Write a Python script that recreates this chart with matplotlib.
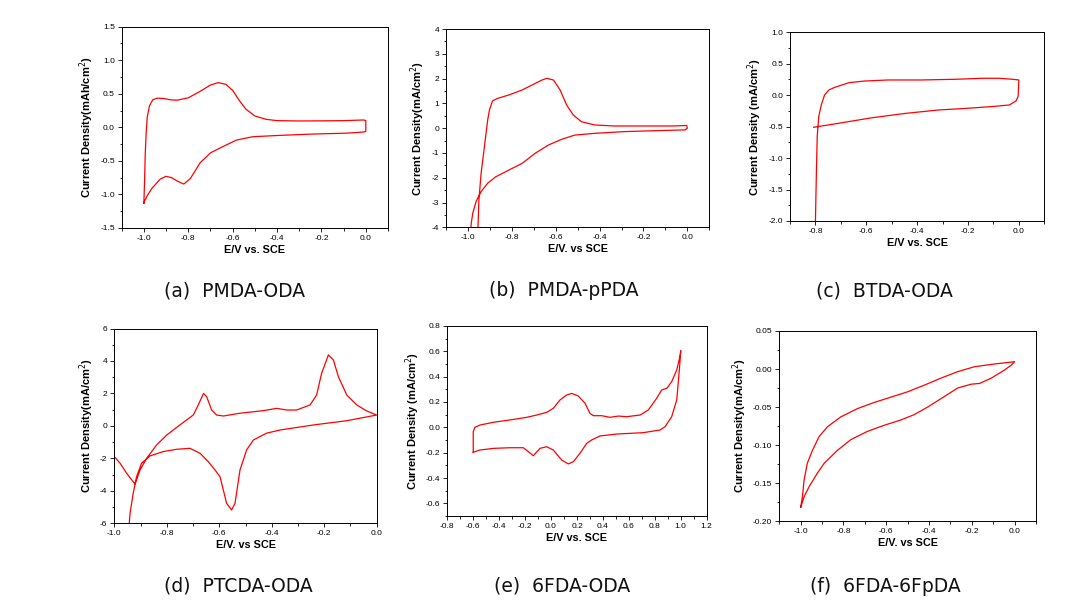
import numpy as np
import matplotlib.pyplot as plt
from matplotlib.ticker import MultipleLocator, FormatStrFormatter

# (a) PMDA-ODA
a_x = [-1.0, -0.997, -0.994, -0.99, -0.985, -0.975, -0.96, -0.94, -0.91, -0.88, -0.85, -0.80,
       -0.75, -0.70, -0.665, -0.63, -0.60, -0.57, -0.54, -0.50, -0.45, -0.40, -0.30, -0.20,
       -0.10, -0.01, 0.0, 0.0, -0.01, -0.09, -0.24, -0.39, -0.51, -0.583, -0.643, -0.70,
       -0.747, -0.79, -0.82, -0.85, -0.875, -0.90, -0.926, -0.963, -0.985, -0.997, -1.0]
a_y = [-1.13, -0.8, -0.4, -0.1, 0.15, 0.32, 0.41, 0.435, 0.43, 0.41, 0.405, 0.44,
       0.53, 0.63, 0.667, 0.64, 0.55, 0.40, 0.27, 0.17, 0.12, 0.10, 0.095, 0.097,
       0.10, 0.11, 0.10, -0.06, -0.07, -0.087, -0.10, -0.12, -0.14, -0.19, -0.285, -0.38,
       -0.53, -0.76, -0.845, -0.80, -0.75, -0.73, -0.77, -0.905, -1.02, -1.10, -1.13]

# (b) PMDA-pPDA
b_x = [-0.955, -0.95, -0.94, -0.925, -0.91, -0.902, -0.888, -0.865, -0.813, -0.753, -0.708,
       -0.663, -0.64, -0.61, -0.58, -0.55, -0.52, -0.483, -0.423, -0.333, -0.213, -0.063,
       -0.003, 0.0, -0.01, -0.138, -0.288, -0.423, -0.513, -0.573, -0.633, -0.693, -0.753,
       -0.813, -0.873, -0.91, -0.94, -0.963, -0.978, -0.985, -0.988]
b_y = [-4.2, -2.9, -1.82, -0.75, 0.33, 0.73, 1.10, 1.20, 1.34, 1.54, 1.74,
       1.94, 2.01, 1.94, 1.54, 0.93, 0.53, 0.26, 0.13, 0.087, 0.087, 0.087,
       0.11, 0.0, -0.07, -0.10, -0.14, -0.21, -0.28, -0.45, -0.68, -1.01, -1.42,
       -1.69, -1.96, -2.22, -2.56, -2.96, -3.43, -3.84, -4.2]

# (c) BTDA-ODA
c_x = [-0.80, -0.796, -0.793, -0.787, -0.777, -0.764, -0.747, -0.727, -0.70, -0.667, -0.608,
       -0.515, -0.382, -0.25, -0.143, -0.077, -0.024, 0.0, -0.003, -0.011, -0.037, -0.103,
       -0.21, -0.316, -0.448, -0.58, -0.714, -0.807]
c_y = [-2.0, -1.19, -0.66, -0.34, -0.155, 0.004, 0.083, 0.12, 0.157, 0.20, 0.225,
       0.242, 0.242, 0.253, 0.269, 0.269, 0.253, 0.242, -0.02, -0.09, -0.155, -0.18,
       -0.21, -0.235, -0.29, -0.36, -0.45, -0.51]

# (d) PTCDA-ODA
d_x = [-1.0, -0.978, -0.953, -0.928, -0.921, -0.902, -0.877, -0.839, -0.80, -0.75, -0.699,
       -0.68, -0.66, -0.648, -0.629, -0.61, -0.584, -0.521, -0.432, -0.381, -0.343, -0.305,
       -0.254, -0.229, -0.21, -0.184, -0.165, -0.146, -0.114, -0.076, -0.038, 0.0,
       -0.114, -0.24, -0.368, -0.42, -0.47, -0.496, -0.521, -0.54, -0.553, -0.572, -0.597,
       -0.616, -0.642, -0.673, -0.712, -0.762, -0.813, -0.864, -0.896, -0.915, -0.928,
       -0.94, -0.944]
d_y = [-1.89, -2.3, -2.92, -3.44, -3.58, -2.72, -2.0, -1.18, -0.56, 0.06, 0.67,
       1.29, 2.0, 1.8, 0.98, 0.67, 0.61, 0.78, 0.94, 1.08, 0.98, 0.98,
       1.29, 1.9, 3.24, 4.37, 4.06, 3.03, 1.9, 1.29, 0.92, 0.67,
       0.32, 0.06, -0.25, -0.45, -0.87, -1.49, -2.72, -4.77, -5.18, -4.77, -3.13,
       -2.72, -2.2, -1.69, -1.38, -1.44, -1.58, -1.85, -2.3, -3.12, -4.15,
       -5.39, -6.2]

# (e) 6FDA-ODA
e_x = [-0.6, -0.6, -0.587, -0.548, -0.445, -0.317, -0.188, -0.111, -0.034, 0.017, 0.069,
       0.12, 0.159, 0.21, 0.262, 0.30, 0.326, 0.39, 0.454, 0.519, 0.583, 0.686, 0.75,
       0.814, 0.853, 0.892, 0.93, 0.969, 0.994, 1.0, 0.989, 0.969, 0.93, 0.879, 0.84,
       0.712, 0.506, 0.377, 0.313, 0.275, 0.223, 0.172, 0.133, 0.082, 0.017, -0.034,
       -0.085, -0.137, -0.175, -0.214, -0.317, -0.445, -0.548, -0.6]
e_y = [-0.197, -0.034, 0.0, 0.018, 0.04, 0.058, 0.079, 0.097, 0.118, 0.15, 0.216,
       0.255, 0.268, 0.247, 0.19, 0.11, 0.092, 0.092, 0.079, 0.089, 0.084, 0.097, 0.137,
       0.229, 0.295, 0.308, 0.36, 0.453, 0.56, 0.605, 0.453, 0.216, 0.084, 0.005, -0.021,
       -0.042, -0.053, -0.068, -0.10, -0.126, -0.205, -0.271, -0.289, -0.258, -0.179, -0.153,
       -0.166, -0.224, -0.192, -0.161, -0.161, -0.166, -0.179, -0.197]

# (f) 6FDA-6FpDA
f_x = [-1.0, -0.992, -0.984, -0.969, -0.945, -0.914, -0.875, -0.8125, -0.734, -0.656, -0.578,
       -0.5, -0.42, -0.344, -0.266, -0.1875, -0.094, 0.0, -0.016, -0.047, -0.109, -0.164,
       -0.203, -0.266, -0.344, -0.406, -0.469, -0.531, -0.609, -0.6875, -0.766, -0.828,
       -0.89, -0.922, -0.961, -0.984, -1.0]
f_y = [-0.182, -0.168, -0.146, -0.124, -0.107, -0.089, -0.076, -0.063, -0.052, -0.044, -0.037,
       -0.030, -0.021, -0.012, -0.0035, 0.003, 0.0066, 0.0096, 0.005, -0.0013, -0.012, -0.019,
       -0.020, -0.025, -0.039, -0.050, -0.060, -0.067, -0.074, -0.082, -0.093, -0.107,
       -0.124, -0.137, -0.155, -0.168, -0.182]

captions = ["(a)  PMDA-ODA", "(b)  PMDA-pPDA", "(c)  BTDA-ODA",
            "(d)  PTCDA-ODA", "(e)  6FDA-ODA", "(f)  6FDA-6FpDA"]
xlabels = ["E/V vs. SCE", "E/V. vs SCE", "E/V vs. SCE",
           "E/V. vs SCE", "E/V vs. SCE", "E/V. vs SCE"]
ylabels = ["Current Density(mAh/cm$^2$)", "Current Density(mA/cm$^2$)",
           "Current Density (mA/cm$^2$)", "Current Density(mA/cm$^2$)",
           "Current Density (mA/cm$^2$)", "Current Density(mA/cm$^2$)"]

W, H = 1080, 614
# pixel boxes: left, right, top, bottom
boxes = [(121.7, 388, 26.7, 228), (446, 709.3, 29, 227.3), (790, 1044.3, 32.3, 221),
         (114.3, 376.7, 328.5, 523.3), (447.3, 706.7, 326, 516), (779.3, 1036, 331, 521)]
xlims = [(-1.1, 0.1), (-1.1, 0.1), (-0.9, 0.1), (-1.0, 0.0), (-0.8, 1.2), (-1.1, 0.1)]
ylims = [(-1.5, 1.5), (-4, 4), (-2.0, 1.0), (-6, 6), (-0.7, 0.8), (-0.2, 0.05)]
ysteps = [0.5, 1, 0.5, 2, 0.2, 0.05]
yfmt = ["%.1f", "%d", "%.1f", "%d", "%.1f", "%.2f"]
data = [(a_x, a_y), (b_x, b_y), (c_x, c_y), (d_x, d_y), (e_x, e_y), (f_x, f_y)]
# caption centre x and baseline y, in pixels
caption_xy = [(235, 296.5), (564, 296.5), (884, 296.5), (238, 591.5), (562, 591.5), (885, 591.5)]

plt.rcParams['font.family'] = ['Liberation Sans', 'DejaVu Sans']
fig = plt.figure(figsize=(W / 100, H / 100), dpi=100)

for i in range(6):
    l, r, t, b = boxes[i]
    ax = fig.add_axes([l / W, 1 - b / H, (r - l) / W, (b - t) / H])
    ax.plot(data[i][0], data[i][1], color='red', lw=0.9)
    ax.set_xlim(*xlims[i])
    ax.set_ylim(*ylims[i])
    ax.xaxis.set_major_locator(MultipleLocator(0.2))
    ax.xaxis.set_minor_locator(MultipleLocator(0.1))
    ax.yaxis.set_major_locator(MultipleLocator(ysteps[i]))
    ax.yaxis.set_minor_locator(MultipleLocator(ysteps[i] / 2))
    ax.xaxis.set_major_formatter(FormatStrFormatter("%.1f"))
    ax.yaxis.set_major_formatter(FormatStrFormatter(yfmt[i]))
    ax.tick_params(which='major', direction='out', length=3, width=0.6, labelsize=6, pad=2)
    ax.tick_params(which='minor', direction='out', length=1.8, width=0.6)
    for s in ax.spines.values():
        s.set_linewidth(0.7)
    ax.set_xlabel(xlabels[i], fontsize=7.8, fontweight='bold', labelpad=2)
    ax.set_ylabel(ylabels[i], fontsize=8, fontweight='bold', labelpad=3)
    cx, cy = caption_xy[i]
    fig.text(cx / W, 1 - cy / H, captions[i], fontsize=13.5, ha='center', va='baseline',
             family=['DejaVu Sans'], color='#111111')

fig.savefig("out.png", dpi=100)
